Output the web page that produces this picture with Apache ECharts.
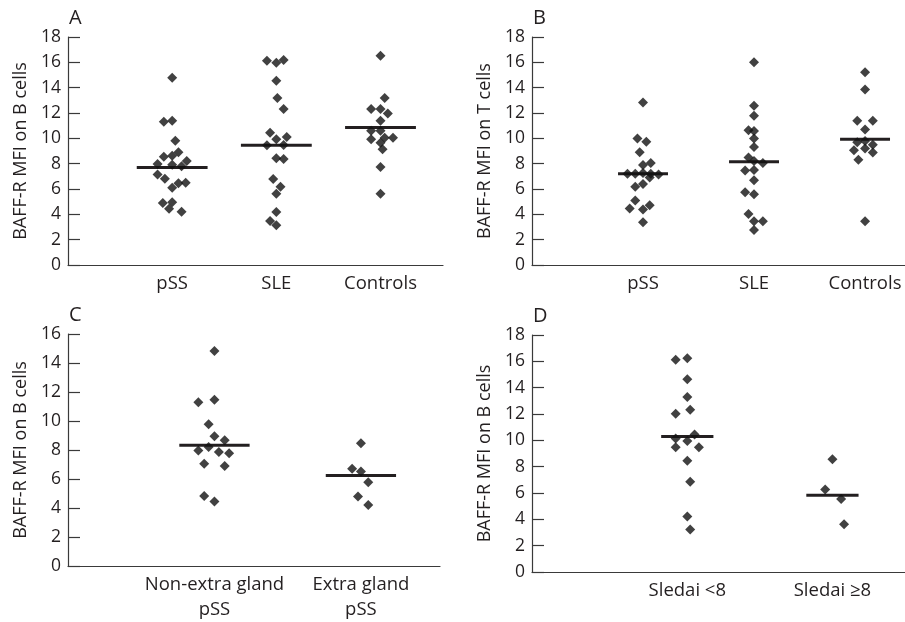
<!DOCTYPE html>
<html>
<head>
<meta charset="utf-8">
<script src="https://cdn.jsdelivr.net/npm/echarts@6/dist/echarts.min.js"></script>
<style>
html,body{margin:0;padding:0;background:#fff;}
#chart{width:905px;height:622px;}
</style>
</head>
<body>
<div id="chart"></div>
<script>
// ---------- DATA ----------
// Panel A: BAFF-R MFI on B cells
const catsA = ['pSS', 'SLE', 'Controls'];
const A_pSS = [14.78, 11.31, 11.39, 9.8, 8.55, 8.63, 8.9, 7.97, 8.21, 7.92, 7.8, 7.15, 6.8, 6.45, 6.5, 6.1, 4.9, 4.95, 4.45, 4.21];
const A_pSS_jit = [0, -0.08, 0, 0.03, -0.08, 0, 0.06, -0.14, 0.14, 0, 0.09, -0.14, -0.07, 0.06, 0.13, 0, -0.09, 0, -0.03, 0.09];
const A_SLE = [16.13, 15.97, 16.18, 14.55, 13.18, 12.31, 10.44, 9.92, 10.1, 9.45, 9.47, 8.42, 8.37, 6.79, 6.18, 5.63, 4.18, 3.47, 3.13];
const A_SLE_jit = [-0.09, 0, 0.07, 0, 0.01, 0.07, -0.06, 0, 0.1, -0.09, 0.07, 0, 0.07, -0.03, 0.04, 0, 0, -0.06, 0];
const A_Ctrl = [16.52, 13.18, 12.31, 12.31, 11.97, 11.39, 10.6, 10.6, 9.92, 10.05, 10.05, 9.65, 9.13, 7.73, 5.63];
const A_Ctrl_jit = [0, 0.04, -0.09, 0, 0.07, 0, -0.09, 0, -0.09, 0.04, 0.12, 0, 0.02, 0, 0];
const A_medians = [7.7, 9.45, 10.85];

// Panel B: BAFF-R MFI on T cells
const catsB = ['pSS', 'SLE', 'Controls'];
const B_pSS = [12.83, 9.98, 9.74, 8.9, 7.9, 8.06, 7.2, 7.2, 7.27, 7.2, 7.14, 6.9, 6.17, 6.4, 5.1, 4.46, 4.39, 4.72, 3.37];
const B_pSS_jit = [0, -0.05, 0.03, -0.03, 0, 0.07, -0.14, -0.07, 0, 0.07, 0.14, 0.06, -0.07, 0, -0.07, -0.12, 0, 0.06, 0];
const B_SLE = [16.01, 12.57, 11.79, 10.63, 10.57, 9.98, 9.31, 8.48, 8.21, 8.06, 7.46, 7.5, 6.69, 5.75, 5.59, 4.02, 3.46, 3.46, 2.76];
const B_SLE_jit = [0, 0, 0, -0.05, 0, 0, 0, -0.05, 0, 0.08, -0.08, 0, 0, -0.08, 0, -0.05, 0, 0.08, 0];
const B_Ctrl = [15.22, 13.86, 11.39, 11.39, 10.69, 9.7, 9.79, 9.5, 9.06, 9.19, 8.88, 8.3, 3.46];
const B_Ctrl_jit = [0, 0, -0.07, 0.07, 0, -0.07, 0, 0.07, -0.1, 0, 0.07, -0.06, 0];
const B_medians = [7.2, 8.15, 9.93];

// Panel C: BAFF-R MFI on B cells, pSS subgroups
const catsC = ['Non-extra gland\npSS', 'Extra gland\npSS'];
const C_non = [14.83, 11.29, 11.46, 9.78, 8.95, 8.68, 8.21, 7.96, 7.87, 7.78, 7.06, 6.9, 4.83, 4.45];
const C_non_jit = [0, -0.11, 0, -0.04, 0, 0.07, -0.04, -0.11, 0.03, 0.1, -0.07, 0.07, -0.07, 0];
const C_extra = [8.46, 6.7, 6.52, 5.78, 4.79, 4.21];
const C_extra_jit = [0, -0.06, 0, 0.05, -0.02, 0.05];
const C_medians = [8.32, 6.25];

// Panel D: BAFF-R MFI on B cells, SLE by Sledai
const catsD = ['Sledai <8', 'Sledai ≥8'];
const D_low = [16.12, 16.23, 14.63, 13.29, 12.32, 12.02, 10.14, 10.45, 9.94, 9.48, 9.48, 8.44, 6.85, 4.21, 3.22];
const D_low_jit = [-0.08, 0, 0, 0, 0.02, -0.08, -0.08, 0.05, 0, -0.08, 0.08, 0, 0.02, 0, 0.02];
const D_high = [8.57, 6.26, 5.55, 3.63];
const D_high_jit = [0, -0.05, 0.06, 0.08];
const D_medians = [10.3, 5.83];

const yTicksAB = [0, 2, 4, 6, 8, 10, 12, 14, 16, 18];
const yTicksC = [0, 2, 4, 6, 8, 10, 12, 14, 16];

// ---------- LAYOUT / STYLE ----------
const FONT = '"Open Sans", Lato, sans-serif';
const TXT = '#231f20';
const panels = [
  {letter: 'A', cats: catsA, pos: [1, 2, 3], xmax: 3.6, ymax: 18, grid: {left: 68, top: 37, width: 375, height: 228},
   groups: [[A_pSS, A_pSS_jit], [A_SLE, A_SLE_jit], [A_Ctrl, A_Ctrl_jit]], med: A_medians, hw: 0.34,
   yname: 'BAFF-R MFI on B cells'},
  {letter: 'B', cats: catsB, pos: [1, 2, 3], xmax: 3.36, ymax: 18, grid: {left: 532, top: 37, width: 373, height: 228},
   groups: [[B_pSS, B_pSS_jit], [B_SLE, B_SLE_jit], [B_Ctrl, B_Ctrl_jit]], med: B_medians, hw: 0.225,
   yname: 'BAFF-R MFI on T cells'},
  {letter: 'C', cats: catsC, pos: [1, 2], xmax: 2.54, ymax: 16, grid: {left: 68, top: 334, width: 372, height: 238},
   groups: [[C_non, C_non_jit], [C_extra, C_extra_jit]], med: C_medians, hw: 0.24,
   yname: 'BAFF-R MFI on B cells'},
  {letter: 'D', cats: catsD, pos: [1.07, 2.07], xmax: 2.57, ymax: 18, grid: {left: 532, top: 335, width: 373, height: 237},
   groups: [[D_low, D_low_jit], [D_high, D_high_jit]], med: D_medians, hw: 0.18,
   yname: 'BAFF-R MFI on B cells'}
];

const grids = [], xAxes = [], yAxes = [], series = [], graphics = [];
panels.forEach((p, i) => {
  grids.push(Object.assign({containLabel: false}, p.grid));
  xAxes.push({
    type: 'value', gridIndex: i, min: 0, max: p.xmax,
    axisLine: {show: true, onZero: false, lineStyle: {color: '#3a3a3a', width: 1.2}},
    axisTick: {show: false},
    splitLine: {show: false},
    axisLabel: {
      show: true, customValues: p.pos, margin: 6,
      formatter: (v) => { const k = p.pos.findIndex(q => Math.abs(q - v) < 1e-6); return k >= 0 ? p.cats[k] : ''; },
      color: TXT, fontFamily: FONT, fontSize: 18.5, lineHeight: 25
    }
  });
  yAxes.push({
    type: 'value', gridIndex: i, min: 0, max: p.ymax, interval: 2,
    name: p.yname, nameLocation: 'middle', nameGap: 38,
    nameTextStyle: {color: TXT, fontFamily: FONT, fontSize: 18},
    axisLine: {show: true, lineStyle: {color: '#3a3a3a', width: 1.2}},
    axisTick: {show: true, inside: true, length: 12, lineStyle: {color: '#3a3a3a', width: 1.2}},
    splitLine: {show: false},
    axisLabel: {color: TXT, fontFamily: FONT, fontSize: 17.5, margin: 7}
  });
  p.groups.forEach((g, k) => {
    const vals = g[0], jit = g[1];
    series.push({
      type: 'scatter', xAxisIndex: i, yAxisIndex: i,
      symbol: 'diamond', symbolSize: 10,
      itemStyle: {color: '#111'},
      data: vals.map((v, j) => [p.pos[k] + jit[j], v]),
      z: 3
    });
    series.push({
      type: 'line', xAxisIndex: i, yAxisIndex: i,
      symbol: 'none',
      lineStyle: {color: '#231f20', width: 3},
      data: [[p.pos[k] - p.hw, p.med[k]], [p.pos[k] + p.hw, p.med[k]]],
      z: 2
    });
  });
  graphics.push({
    type: 'text', left: p.grid.left + 1, top: p.grid.top - 29,
    style: {text: p.letter, fill: TXT, font: '20px ' + FONT}
  });
});

const chart = echarts.init(document.getElementById('chart'), null, {renderer: 'canvas'});
chart.setOption({
  animation: false,
  backgroundColor: '#fff',
  grid: grids, xAxis: xAxes, yAxis: yAxes, series: series, graphic: graphics
});
</script>
</body>
</html>
